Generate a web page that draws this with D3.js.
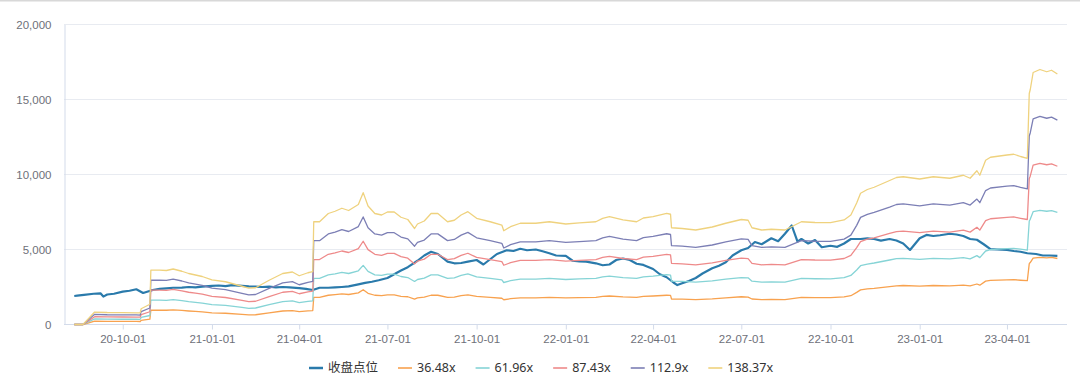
<!DOCTYPE html>
<html><head><meta charset="utf-8">
<script src="https://cdn.jsdelivr.net/npm/d3@7/dist/d3.min.js"></script>
<style>
body{margin:0;background:#fff;}
svg{display:block;font-family:"Noto Sans","Noto Sans CJK SC",sans-serif;}
</style>
</head><body>
<svg id="chart" width="1080" height="378"></svg>
<script>
// ---------- data ----------
const seriesNames = ["收盘点位","36.48x","61.96x","87.43x","112.9x","138.37x"];
const xTickLabels = ["2020-10-01","2021-01-01","2021-04-01","2021-07-01","2021-10-01","2022-01-01","2022-04-01","2022-07-01","2022-10-01","2023-01-01","2023-04-01"];
const yTicks = [0,5000,10000,15000,20000];

const closeDates = [
"2020-08-12","2020-08-15","2020-08-22","2020-09-01","2020-09-08","2020-09-11","2020-09-15","2020-09-22",
"2020-10-01","2020-10-08","2020-10-15","2020-10-22","2020-11-01","2020-11-08","2020-11-15","2020-11-22",
"2020-12-01","2020-12-08","2020-12-15","2020-12-22","2021-01-01","2021-01-08","2021-01-15","2021-01-22",
"2021-02-01","2021-02-08","2021-02-15","2021-02-22","2021-03-01","2021-03-08","2021-03-15","2021-03-22",
"2021-04-01","2021-04-08","2021-04-15","2021-04-22","2021-05-01","2021-05-08","2021-05-15","2021-05-22",
"2021-06-01","2021-06-08","2021-06-15","2021-06-22","2021-07-01","2021-07-08","2021-07-15","2021-07-22",
"2021-08-01","2021-08-08","2021-08-15","2021-08-22","2021-09-01","2021-09-08","2021-09-15","2021-09-22",
"2021-10-01","2021-10-08","2021-10-15","2021-10-22","2021-11-01","2021-11-08","2021-11-15","2021-11-22",
"2021-12-01","2021-12-08","2021-12-15","2021-12-22","2022-01-01","2022-01-08","2022-01-15","2022-01-22",
"2022-02-01","2022-02-08","2022-02-15","2022-02-22","2022-03-01","2022-03-08","2022-03-15","2022-03-22",
"2022-04-01","2022-04-08","2022-04-15","2022-04-22","2022-04-26","2022-05-01","2022-05-08","2022-05-15","2022-05-22",
"2022-06-01","2022-06-08","2022-06-15","2022-06-22","2022-07-01","2022-07-08","2022-07-15","2022-07-22",
"2022-08-01","2022-08-08","2022-08-15","2022-08-22","2022-08-28","2022-09-01","2022-09-08","2022-09-15","2022-09-22",
"2022-10-01","2022-10-08","2022-10-15","2022-10-22","2022-11-01","2022-11-08","2022-11-15","2022-11-22",
"2022-12-01","2022-12-08","2022-12-15","2022-12-22","2023-01-01","2023-01-08","2023-01-15","2023-01-22",
"2023-02-01","2023-02-08","2023-02-15","2023-02-22","2023-03-01","2023-03-08","2023-03-15","2023-03-22",
"2023-04-01","2023-04-08","2023-04-15","2023-04-22","2023-05-01","2023-05-08","2023-05-15","2023-05-23"];
const closeValues = [
1900,1920,1970,2050,2080,1860,2000,2050,
2190,2250,2350,2100,2300,2380,2410,2450,
2460,2500,2480,2520,2570,2600,2560,2630,
2580,2540,2520,2500,2520,2480,2500,2470,
2430,2380,2300,2450,2450,2470,2500,2540,
2680,2770,2850,2950,3100,3350,3600,3820,
4250,4600,4850,4700,4190,4080,4100,4190,
4300,4000,4350,4700,4950,4900,5050,4950,
5000,4880,4750,4600,4570,4250,4200,4190,
4080,3950,4000,4300,4400,4300,4050,3970,
3700,3350,3150,2800,2630,2750,2900,3100,3400,
3750,3920,4150,4600,4950,5100,5500,5350,
5750,5550,6050,6600,5520,5700,5400,5630,5150,
5250,5180,5400,5700,5700,5740,5700,5590,
5700,5600,5400,4970,5750,5970,5900,5950,
6050,6000,5900,5700,5650,5350,5030,5000,
4970,4900,4850,4750,4700,4600,4600,4570];

const bandDates = [
"2020-08-12","2020-08-21","2020-09-02","2020-09-15","2020-10-01","2020-10-15","2020-10-19","2020-10-20","2020-10-29","2020-10-30",
"2020-11-08","2020-11-15","2020-11-22","2020-12-01","2020-12-08","2020-12-15","2020-12-22","2021-01-01","2021-01-15","2021-02-01",
"2021-02-08","2021-02-15","2021-03-01","2021-03-15","2021-03-25","2021-04-01","2021-04-10","2021-04-15","2021-04-16","2021-04-22",
"2021-05-01","2021-05-08","2021-05-15","2021-05-22","2021-06-01","2021-06-06","2021-06-11","2021-06-18","2021-06-25","2021-07-01",
"2021-07-08","2021-07-15","2021-07-22","2021-07-29","2021-08-01","2021-08-08","2021-08-15","2021-08-22","2021-09-01","2021-09-08",
"2021-09-15","2021-09-22","2021-10-01","2021-10-15","2021-10-27","2021-10-29","2021-11-05","2021-11-15","2021-12-01","2021-12-15",
"2022-01-01","2022-01-15","2022-02-01","2022-02-08","2022-02-15","2022-03-01","2022-03-15","2022-03-22","2022-04-01","2022-04-15",
"2022-04-19","2022-04-20","2022-05-01","2022-05-15","2022-06-01","2022-06-15","2022-07-01","2022-07-08","2022-07-12","2022-07-22",
"2022-08-01","2022-08-15","2022-09-01","2022-09-15","2022-10-01","2022-10-15","2022-10-22","2022-10-28","2022-11-01","2022-11-08",
"2022-11-15","2022-12-01","2022-12-08","2022-12-15","2023-01-01","2023-01-15","2023-02-01","2023-02-15","2023-02-22","2023-03-01",
"2023-03-04","2023-03-10","2023-03-15","2023-04-01","2023-04-08","2023-04-15","2023-04-22","2023-04-24","2023-04-25","2023-04-28",
"2023-05-05","2023-05-12","2023-05-17","2023-05-23"];

const band36 = [
0,0,220,210,210,210,200,280,360,960,
950,950,980,940,900,870,840,780,750,670,
640,650,780,900,920,860,910,930,1810,1810,
1950,1990,2040,2000,2110,2320,2080,1950,1920,1980,
1980,1880,1850,1690,1770,1820,1950,1950,1810,1830,
1920,1980,1870,1810,1750,1650,1720,1780,1780,1810,
1770,1790,1810,1870,1900,1840,1810,1870,1900,1950,
1940,1700,1690,1660,1710,1780,1850,1830,1700,1660,
1670,1660,1810,1790,1790,1840,1920,2140,2310,2370,
2410,2530,2580,2600,2560,2600,2570,2620,2570,2700,
2620,2890,2940,2980,2990,2950,2920,4060,4130,4430,
4480,4440,4470,4400];

const band62 = [
0,0,370,360,350,350,345,470,600,1630,
1620,1610,1660,1590,1520,1480,1430,1330,1280,1140,
1080,1100,1320,1520,1570,1460,1540,1580,3070,3070,
3310,3380,3470,3400,3580,3940,3540,3310,3270,3360,
3360,3200,3130,2870,3000,3090,3310,3310,3070,3110,
3270,3370,3170,3070,2970,2800,2920,3020,3020,3070,
3000,3040,3070,3170,3220,3120,3070,3180,3220,3320,
3290,2890,2870,2820,2910,3020,3130,3110,2890,2820,
2840,2820,3070,3050,3040,3120,3270,3630,3920,4030,
4100,4300,4390,4410,4340,4410,4370,4460,4370,4590,
4460,4900,4990,5060,5080,5020,4960,6900,7010,7520,
7610,7550,7590,7480];

const band87 = [
0,0,520,510,500,490,490,660,850,2290,
2290,2270,2340,2240,2150,2090,2020,1880,1800,1610,
1530,1550,1860,2150,2210,2050,2180,2220,4330,4330,
4680,4770,4900,4800,5060,5550,4990,4680,4610,4740,
4740,4520,4420,4040,4230,4360,4680,4680,4330,4390,
4610,4750,4470,4330,4190,3950,4120,4270,4270,4330,
4230,4280,4330,4470,4540,4400,4330,4490,4540,4680,
4640,4080,4040,3980,4110,4270,4420,4390,4080,3980,
4010,3980,4330,4300,4290,4400,4610,5120,5530,5690,
5780,6070,6190,6220,6130,6220,6160,6290,6160,6480,
6290,6920,7050,7140,7170,7080,7000,9730,9890,10620,
10740,10650,10710,10550];

const band113 = [
0,0,680,650,645,640,630,860,1100,2960,
2950,2940,3020,2900,2770,2690,2610,2420,2330,2080,
1970,2000,2410,2770,2860,2650,2810,2870,5590,5590,
6040,6160,6320,6200,6530,7170,6450,6040,5960,6120,
6120,5830,5710,5220,5470,5630,6040,6040,5590,5670,
5960,6140,5780,5590,5410,5100,5320,5510,5510,5590,
5470,5530,5590,5780,5870,5690,5590,5790,5870,6050,
6000,5260,5220,5140,5300,5510,5710,5670,5260,5140,
5180,5140,5590,5550,5540,5690,5960,6610,7140,7340,
7470,7830,8000,8040,7910,8040,7960,8120,7960,8360,
8120,8930,9100,9220,9260,9140,9040,12570,12770,13710,
13870,13750,13830,13630];

const band138 = [
0,0,830,800,790,780,770,1050,1350,3630,
3620,3600,3700,3550,3400,3300,3200,2970,2850,2550,
2420,2450,2950,3400,3500,3250,3450,3520,6850,6850,
7400,7550,7750,7600,8000,8790,7900,7400,7300,7500,
7500,7150,7000,6400,6700,6900,7400,7400,6850,6950,
7300,7520,7080,6850,6630,6250,6520,6750,6750,6850,
6700,6780,6850,7080,7190,6970,6850,7100,7190,7410,
7350,6450,6400,6300,6500,6750,7000,6950,6450,6300,
6350,6300,6850,6800,6790,6970,7300,8100,8750,9000,
9150,9600,9800,9850,9700,9850,9750,9950,9750,10250,
9950,10950,11150,11300,11350,11200,11080,15400,15650,16800,
17000,16850,16950,16700];

// ---------- drawing ----------
const parse = d3.timeParse("%Y-%m-%d");
const colors = ["#2a7aab","#f8a24f","#86d4d6","#ee8a8a","#7c7fb5","#efd27e"];
const widths = [2.2,1.3,1.3,1.3,1.3,1.3];

const svg = d3.select("#chart");
svg.append("rect").attr("x",0).attr("y",0).attr("width",1080).attr("height",1.5).attr("fill","#d8d8d8");

const x = d3.scaleTime().domain([parse("2020-08-01"), parse("2023-06-01")]).range([63.6, 1066.1]);
const y = d3.scaleLinear().domain([0, 20000]).range([324.5, 24.5]);
const left = 64, right = 1067;

// grid
svg.append("g").selectAll("line").data(yTicks.filter(v => v > 0)).join("line")
  .attr("x1", left).attr("x2", right)
  .attr("y1", d => y(d)).attr("y2", d => y(d))
  .attr("stroke", "#e8ebf1").attr("stroke-width", 1);

// y axis
const yAxis = d3.axisLeft(y).tickValues(yTicks).tickSize(0).tickPadding(13).tickFormat(d3.format(","));
const gy = svg.append("g").attr("transform", `translate(${left + 0.5},0)`).call(yAxis);
gy.select(".domain").attr("stroke", "#d3dbea");
gy.selectAll("text").attr("fill", "#6e7079").style("font-size", "11.5px");

// x axis
const xAxis = d3.axisBottom(x).tickValues(xTickLabels.map(parse)).tickSize(5).tickPadding(5).tickFormat(d3.timeFormat("%y-%m-%d"));
const gx = svg.append("g").attr("transform", `translate(0,${y(0)})`).call(xAxis);
gx.select(".domain").attr("stroke", "#d3dbea").attr("d", `M${left},0H${right}`);
gx.selectAll(".tick line").attr("stroke", "#d3dbea");
gx.selectAll("text").attr("fill", "#6e7079").style("font-size", "11.5px");

// series
const line = d3.line().x(d => x(d[0])).y(d => y(d[1]));
const closeData = closeDates.map((d, i) => [parse(d), closeValues[i]]);
const bands = [band36, band62, band87, band113, band138];
const bandD = bandDates.map(parse);

svg.append("path").datum(closeData).attr("d", line)
  .attr("fill", "none").attr("stroke", colors[0]).attr("stroke-width", widths[0]).attr("stroke-linejoin", "round");

bands.forEach((arr, k) => {
  svg.append("path").datum(arr.map((v, i) => [bandD[i], v])).attr("d", line)
    .attr("fill", "none").attr("stroke", colors[k + 1]).attr("stroke-width", widths[k + 1]).attr("stroke-linejoin", "round");
});

// legend
const lg = svg.append("g");
let cx = 0;
seriesNames.forEach((name, i) => {
  const g = lg.append("g").attr("transform", `translate(${cx},0)`);
  g.append("line").attr("x1", 0).attr("x2", 14).attr("y1", 0).attr("y2", 0)
    .attr("stroke", colors[i]).attr("stroke-width", i === 0 ? 2.5 : 1.6);
  const t = g.append("text").attr("x", 19).attr("y", 0).attr("dy", "0.35em")
    .attr("fill", "#333").style("font-size", "12.5px").text(name);
  const w = t.node().getComputedTextLength();
  cx += 19 + w + 20;
});
const total = cx - 20;
lg.attr("transform", `translate(${541 - total / 2},368)`);
</script>
</body></html>
